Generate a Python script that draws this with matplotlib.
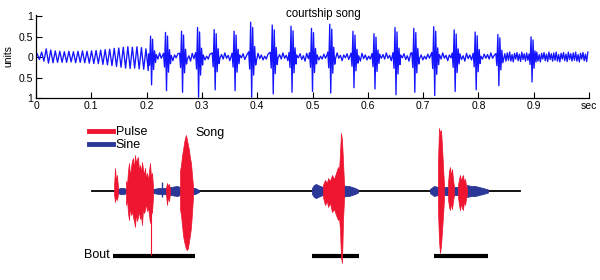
import matplotlib
matplotlib.use('Agg')
import matplotlib.pyplot as plt
from matplotlib.lines import Line2D

plt.rcParams['font.family'] = ['Liberation Sans', 'DejaVu Sans']

# ---------------- top panel: courtship song trace ----------------
sine_period = 0.0082
sine_pos = [0.08, 0.12, 0.20, 0.17, 0.15, 0.14, 0.13, 0.14, 0.13, 0.14, 0.15, 0.14, 0.15,
            0.16, 0.17, 0.18, 0.19, 0.21, 0.22, 0.24, 0.25, 0.24, 0.25, 0.23, 0.20]
sine_neg = [-0.06, -0.10, -0.15, -0.14, -0.13, -0.13, -0.13, -0.12, -0.14, -0.13, -0.14, -0.15, -0.16,
            -0.16, -0.18, -0.19, -0.21, -0.23, -0.25, -0.27, -0.28, -0.27, -0.29, -0.30, -0.33]

pulse_t = [0.209, 0.236, 0.265, 0.294, 0.324, 0.360, 0.390, 0.429, 0.463, 0.500,
           0.533, 0.575, 0.613, 0.651, 0.685, 0.721, 0.758, 0.796, 0.837, 0.897]
pulse_pos = [0.51, 0.60, 0.63, 0.72, 0.67, 0.63, 0.85, 0.78, 0.75, 0.70,
             0.80, 0.63, 0.57, 0.72, 0.70, 0.74, 0.66, 0.61, 0.55, 0.49]
pulse_neg = [-0.68, -0.82, -0.86, -0.98, -0.80, -0.82, -0.98, -0.90, -0.86, -0.84,
             -0.88, -0.75, -0.78, -0.92, -0.86, -0.94, -0.84, -0.80, -0.70, -0.61]

# shape of one pulse (offsets in s, which peak it scales, gain)
shape_off = [-0.0054, -0.0036, -0.0018, 0.0, 0.0018, 0.0036, 0.0054, 0.0072]
shape_sign = [1, -1, 1, -1, 1, -1, 1, -1]
shape_gain = [0.15, 0.30, 1.0, 1.0, 0.85, 0.45, 0.30, 0.20]

ripple = [0.06, -0.05, 0.10, -0.03, 0.04, -0.09, 0.05, -0.02, 0.08, -0.06,
          0.03, -0.10, 0.09, -0.04, 0.05, -0.07, 0.02, -0.05, 0.07, -0.03]
tail_ripple = [0.10, -0.08, 0.12, -0.10, 0.06, -0.12, 0.09, -0.05, 0.11, -0.09,
               0.07, -0.11, 0.12, -0.06, 0.08, -0.10]
ripple_step = 0.003
tail_step = 0.0022
trace_end = 1.0

x_ticks = [0, 0.1, 0.2, 0.3, 0.4, 0.5, 0.6, 0.7, 0.8, 0.9, 1.0]
x_ticklabels = ['0', '0.1', '0.2', '0.3', '0.4', '0.5', '0.6', '0.7', '0.8', '0.9', 'sec']
y_ticks = [1, 0.5, 0, -0.5, -1]
y_ticklabels = ['1', '0.5', '0', '0.5', '1']

# ---------------- bottom panel: segmented song ----------------
trace_len = 428
red_bursts = [
    ([22, 23, 24, 25, 26], [4, 23, 10, 16, 3], [-3, -11, -6, -9, -3]),
    (list(range(34, 62)),
     [10, 6, 20, 28, 14, 24, 30, 33, 22, 36, 28, 32, 34, 20, 26, 18, 29, 22, 16, 23, 12, 18, 10, 20, 28, 14, 18, 5],
     [-14, -8, -22, -29, -16, -24, -20, -26, -30, -36, -22, -30, -26, -20, -28, -24, -34, -18, -22, -19, -12, -20,
      -16, -24, -32, -18, -22, -6]),
    ([74, 75, 76, 77, 78], [3, 8, 5, 7, 2], [-3, -14, -6, -10, -2]),
    (list(range(88, 102)), [20, 26, 35, 41, 48, 53, 56, 51, 46, 41, 33, 28, 16, 5],
     [-18, -24, -34, -44, -50, -54, -58, -59, -57, -50, -44, -36, -22, -6]),
    ([231, 233, 235, 236, 238, 240, 242, 244, 246, 247, 248, 249, 250, 251, 252],
     [6, 11, 8, 13, 10, 16, 12, 18, 24, 20, 38, 58, 51, 30, 8],
     [-6, -14, -10, -16, -12, -21, -18, -24, -29, -26, -39, -66, -72, -30, -8]),
    ([346, 347, 348, 349, 350, 351, 352], [30, 63, 58, 61, 45, 25, 6], [-20, -50, -62, -55, -40, -25, -8]),
    ([356, 357, 358, 359, 360, 361, 362], [8, 20, 24, 15, 22, 12, 4], [-8, -16, -19, -12, -18, -10, -4]),
    (list(range(366, 376)), [6, 12, 16, 10, 14, 16, 9, 12, 6, 3], [-6, -14, -19, -12, -17, -19, -10, -14, -8, -3]),
]
red_lines_x = [59]
red_lines_low = [-64]
blue_segments = [
    ([26, 28, 30, 32, 34], [2, 3, 3, 3, 2]),
    ([61, 64, 67, 70, 73, 76, 79, 82, 85, 88], [2, 2.5, 3, 3, 3, 3.5, 4, 4.5, 5, 4]),
    ([101, 103, 105, 107], [3, 3, 2, 1]),
    ([220, 222, 224, 226, 228, 231], [3, 6, 7, 6, 5, 4]),
    ([251, 254, 257, 260, 263, 266], [6, 5, 5, 4, 3, 1.5]),
    ([338, 342, 346], [2, 5, 4]),
    ([351, 353, 356], [4, 4, 4]),
    ([362, 364, 366], [4, 4, 4]),
    ([375, 379, 383, 387, 391, 396], [6, 5, 5, 4, 3, 1.5]),
]
blue_spike_x = [70]
blue_spike_up = [9]
blue_spike_down = [-6]
bout_start = [21, 220, 342]
bout_end = [103, 267, 396]
bout_level = -65

RED = '#ee1530'
BLUE = '#2b3898'
TRACE = '#1414ff'

# ---------------- build the figure ----------------
fig = plt.figure(figsize=(6, 2.8), dpi=100)

ax2 = fig.add_axes([0, 0, 1, 1])
ax2.set_xlim(-92, 508)
ax2.set_ylim(-89, 191)
ax2.axis('off')

ax2.plot([0, trace_len], [0, 0], color='black', lw=1.3, zorder=1)
for xs, amps in blue_segments:
    ax2.fill_between(xs, amps, [-a for a in amps], color=BLUE, lw=0.6, edgecolor=BLUE, zorder=2)
ax2.vlines(blue_spike_x, blue_spike_down, blue_spike_up, color=BLUE, lw=1.0, zorder=2)
for xs, up, lo in red_bursts:
    ax2.fill_between(xs, up, lo, color=RED, lw=0.5, edgecolor=RED, zorder=3)
ax2.vlines(red_lines_x, red_lines_low, 0, color=RED, lw=0.8, zorder=3)
ax2.hlines([bout_level] * len(bout_start), bout_start, bout_end, color='black', lw=3.0, zorder=2)

ax2.text(103, 58, 'Song', fontsize=9, ha='left', va='center')
ax2.text(18, bout_level + 1, 'Bout', fontsize=9, ha='right', va='center')
handles = [Line2D([], [], color=RED, lw=3.5), Line2D([], [], color=BLUE, lw=3.5)]
ax2.legend(handles, ['Pulse', 'Sine'], loc='upper left', bbox_to_anchor=(89 / 600, 1 - 126 / 280),
           bbox_transform=fig.transFigure, frameon=False, fontsize=9, handlelength=1.9,
           handletextpad=0.25, labelspacing=0.1, borderpad=0, borderaxespad=0)

# top trace points
pts = []
for i, (p, n) in enumerate(zip(sine_pos, sine_neg)):
    t0 = i * sine_period
    pts.append((t0 + 0.25 * sine_period, p))
    pts.append((t0 + 0.75 * sine_period, n))
for tc, P, N in zip(pulse_t, pulse_pos, pulse_neg):
    for off, s, g in zip(shape_off, shape_sign, shape_gain):
        pts.append((tc + off, g * (P if s > 0 else N)))
k = 0
for i in range(len(pulse_t) - 1):
    a = pulse_t[i] + 0.0085
    b = pulse_t[i + 1] - 0.0065
    last = (i == len(pulse_t) - 2)
    src = tail_ripple if last else ripple
    step = tail_step if last else ripple_step
    t = a
    while t < b:
        pts.append((t, src[k % len(src)]))
        k += 1
        t += step
t = pulse_t[-1] + 0.0085
while t < trace_end:
    pts.append((t, tail_ripple[k % len(tail_ripple)]))
    k += 1
    t += tail_step
pts = [p for p in pts if p[0] <= trace_end]
pts.sort()
ts = [p[0] for p in pts]
ys = [p[1] for p in pts]

ax = fig.add_axes([36 / 600, 1 - 98 / 280, (589 - 36) / 600, (98 - 14.8) / 280])
ax.patch.set_alpha(0)
ax.plot(ts, ys, color=TRACE, lw=0.95)
ax.set_xlim(0, 1.0)
ax.set_ylim(-1, 1.03)
ax.set_xticks(x_ticks)
ax.set_xticklabels(x_ticklabels)
ax.set_yticks(y_ticks)
ax.set_yticklabels(y_ticklabels)
ax.tick_params(direction='in', length=4, width=0.8, labelsize=7.5, pad=2)
for s in ['top', 'right']:
    ax.spines[s].set_visible(False)
for s in ['left', 'bottom']:
    ax.spines[s].set_linewidth(0.9)
ax.set_ylabel('units', fontsize=7.5, labelpad=4)
ax.text(0.52, 1.04, 'courtship song', fontsize=8.3, ha='center', va='center')

fig.savefig('out.png', dpi=100)
